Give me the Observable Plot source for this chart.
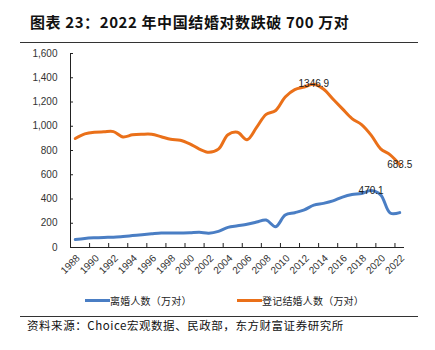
<!DOCTYPE html>
<html><head><meta charset="utf-8">
<script src="https://cdn.jsdelivr.net/npm/d3@7"></script>
<script src="https://cdn.jsdelivr.net/npm/@observablehq/plot@0.6"></script>
<style>
body{margin:0;background:#fff;font-family:"Noto Sans CJK SC","Noto Sans",sans-serif;}
#wrap{position:relative;width:435px;height:350px;overflow:hidden;background:#fff;}
#title{position:absolute;left:30px;top:12px;font-size:15px;line-height:20px;font-weight:bold;color:#111;white-space:nowrap;letter-spacing:0.6px;}
.rule{position:absolute;left:20px;width:398px;height:1px;background:#333;}
#chart{position:absolute;left:0;top:45px;}
.leg{position:absolute;top:292px;height:16px;display:flex;align-items:center;font-size:10px;color:#222;white-space:nowrap;letter-spacing:0.2px;}
.sw{display:inline-block;width:25px;height:3px;}
#source{position:absolute;left:27px;top:317px;font-size:11.5px;line-height:16px;color:#111;white-space:nowrap;letter-spacing:0.55px;}
</style></head>
<body>
<div id="wrap">
  <div id="title">图表 23：2022 年中国结婚对数跌破 700 万对</div>
  <div class="rule" style="top:42px"></div>
  <div id="chart"></div>
  <div class="leg" style="left:85px"><span class="sw" id="sw0"></span><span id="lt0"></span></div>
  <div class="leg" style="left:237px"><span class="sw" id="sw1"></span><span id="lt1"></span></div>
  <div class="rule" style="top:316px"></div>
  <div id="source">资料来源：Choice宏观数据、民政部，东方财富证券研究所</div>
</div>
<script>
const years = [1988,1989,1990,1991,1992,1993,1994,1995,1996,1997,1998,1999,2000,2001,2002,2003,2004,2005,2006,2007,2008,2009,2010,2011,2012,2013,2014,2015,2016,2017,2018,2019,2020,2021,2022];
const divorce = [65.5,75,80,83,85,91,98,105,113,120,119,120,121,125,118,133,166,179,191,210,227,172,268,287,310,350,364,384,416,437,446,470.1,434,284,288];
const marriage = [899,937,951,954,956,912,929,934,934,914,892,885,855,812,786,811,930,950,889,991,1098,1130,1241,1302,1324,1346.9,1307,1225,1143,1063,1014,927,814,764,683.5];
const seriesNames = ["离婚人数（万对）","登记结婚人数（万对）"];
const seriesColors = ["#4A7EC4","#EA7019"];
const yTicks = [0,200,400,600,800,1000,1200,1400,1600];
const xLabelYears = [1988,1990,1992,1994,1996,1998,2000,2002,2004,2006,2008,2010,2012,2014,2016,2018,2020,2022];
const labelYears = [2013,2019,2022];
const labelSeries = [1,0,1];
const labelTexts = ["1346.9","470.1","683.5"];

const rows = [];
years.forEach((yr,i)=>{
  rows.push({year:yr, value:divorce[i], series:seriesNames[0]});
  rows.push({year:yr, value:marriage[i], series:seriesNames[1]});
});
const labels = labelYears.map((yr,i)=>{
  const idx = years.indexOf(yr);
  return {year:yr, value:(labelSeries[i]===0?divorce:marriage)[idx], text:labelTexts[i]};
});
const xDomain = [years[0]-0.5, years[years.length-1]+0.5];
const xTickBounds = xLabelYears.slice(0,-1).map(y=>y+1.5);

const chart = Plot.plot({
  width:435, height:240,
  marginLeft:70, marginRight:31, marginTop:8, marginBottom:38,
  style:{fontFamily:"'Liberation Sans',Arial,sans-serif", fontSize:"10px", color:"#333", background:"white"},
  x:{domain:xDomain},
  y:{domain:[0,1600]},
  color:{domain:seriesNames, range:seriesColors},
  marks:[
    Plot.axisY({ticks:yTicks, tickSize:0, tickPadding:13, tickFormat:d3.format(","), fontSize:10, fill:"#333", label:null}),
    Plot.axisY({ticks:yTicks, tickSize:3, dx:3, tickFormat:()=>"", stroke:"#222", label:null}),
    Plot.axisX({ticks:xTickBounds, tickSize:4, dy:-4, tickFormat:()=>"", stroke:"#222", label:null}),
    Plot.text(xLabelYears, {x:d=>d, text:d=>String(d), frameAnchor:"bottom", rotate:-45, textAnchor:"end", lineAnchor:"middle", dy:9, dx:3, fontSize:10, fill:"#333"}),
    Plot.ruleX([xDomain[0]], {y1:0, y2:1600, stroke:"#222"}),
    Plot.ruleY([0], {stroke:"#222"}),
    Plot.line(rows, {x:"year", y:"value", z:"series", stroke:"series", strokeWidth:3, curve:"catmull-rom"}),
    Plot.text(labels, {x:"year", y:"value", text:"text", fontSize:10, fill:"#222"})
  ]
});
document.getElementById("chart").appendChild(chart);
seriesNames.forEach((n,i)=>{
  document.getElementById("sw"+i).style.background = seriesColors[i];
  document.getElementById("lt"+i).textContent = n;
});
</script>
</body></html>
